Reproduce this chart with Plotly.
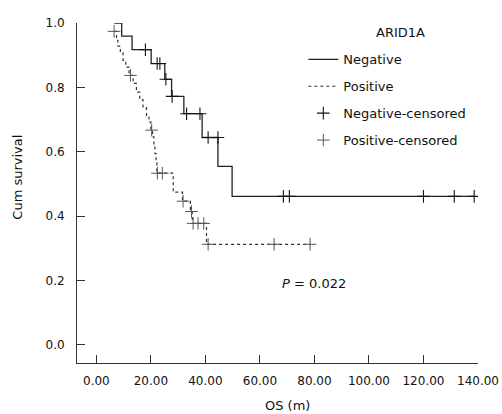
import plotly.graph_objects as go

# ---- data ----
neg_time = [6.6, 9.3, 13.1, 20.1, 25.1, 27.6, 32.1, 38.8, 44.6, 49.8, 138.6]
neg_surv = [1.0, 0.959, 0.917, 0.874, 0.825, 0.772, 0.718, 0.644, 0.554, 0.461, 0.461]

neg_cens_time = [18.0, 22.3, 23.3, 25.5, 27.8, 33.1, 38.0, 41.0, 44.6, 68.6, 70.8, 120.0, 131.3, 138.6]
neg_cens_surv = [0.917, 0.874, 0.874, 0.825, 0.772, 0.718, 0.718, 0.644, 0.644, 0.461, 0.461, 0.461, 0.461, 0.461]

pos_time = [6.5, 7.4, 7.9, 8.8, 9.8, 10.8, 12.0, 13.5, 14.7, 15.9, 17.1, 18.4, 19.3,
            20.0, 20.6, 21.1, 21.5, 21.9, 22.2, 28.2, 31.6, 34.5, 35.2, 40.4, 78.4]
pos_surv = [0.974, 0.946, 0.928, 0.907, 0.884, 0.863, 0.837, 0.812, 0.785, 0.762, 0.737, 0.713, 0.692,
            0.667, 0.646, 0.620, 0.594, 0.566, 0.533, 0.474, 0.446, 0.414, 0.377, 0.312, 0.312]

pos_cens_time = [6.5, 12.5, 20.3, 22.4, 24.2, 31.8, 34.9, 35.5, 37.3, 39.4, 41.0, 65.2, 78.4]
pos_cens_surv = [0.974, 0.837, 0.667, 0.533, 0.533, 0.446, 0.414, 0.377, 0.377, 0.377, 0.312, 0.312, 0.312]

x_ticks = [0, 20, 40, 60, 80, 100, 120, 140]
x_tick_text = ["0.00", "20.00", "40.00", "60.00", "80.00", "100.00", "120.00", "140.00"]
y_ticks = [0.0, 0.2, 0.4, 0.6, 0.8, 1.0]
y_tick_text = ["0.0", "0.2", "0.4", "0.6", "0.8", "1.0"]

FONT = "DejaVu Sans"
TXT = "#111111"

fig = go.Figure()
fig.add_trace(go.Scatter(
    x=neg_time, y=neg_surv, mode="lines", line_shape="hv", name="Negative",
    line=dict(color="#222222", width=1.3), legendgroup="a"))
fig.add_trace(go.Scatter(
    x=pos_time, y=pos_surv, mode="lines", line_shape="hv", name="Positive",
    line=dict(color="#333333", width=1.2, dash="3px,3px"), legendgroup="b"))
fig.add_trace(go.Scatter(
    x=neg_cens_time, y=neg_cens_surv, mode="markers", name="Negative-censored",
    marker=dict(symbol="cross-thin", size=9, line=dict(color="#111111", width=1.1)),
    legendgroup="c"))
fig.add_trace(go.Scatter(
    x=pos_cens_time, y=pos_cens_surv, mode="markers", name="Positive-censored",
    marker=dict(symbol="cross-thin", size=9, line=dict(color="#555555", width=1)),
    legendgroup="d"))

fig.add_annotation(x=79.8, y=0.19, xref="x", yref="y", text="<i>P</i> = 0.022",
                   showarrow=False, font=dict(family=FONT, size=13, color=TXT))
fig.add_annotation(x=70, y=-0.125, xref="x", yref="paper", text="OS (m)", yanchor="middle",
                   showarrow=False, font=dict(family=FONT, size=13, color=TXT))
fig.add_annotation(x=-0.149, y=0.52, xref="paper", yref="y", text="Cum survival", textangle=-90,
                   xanchor="center", showarrow=False, font=dict(family=FONT, size=13, color=TXT))
fig.add_annotation(x=0.806, y=0.9735, xref="paper", yref="paper", text="ARID1A",
                   xanchor="center", yanchor="middle", showarrow=False,
                   font=dict(family=FONT, size=13, color=TXT))

fig.update_layout(
    template="none",
    width=502, height=414,
    margin=dict(l=77.3, r=24.3, t=22.7, b=51.3, autoexpand=False),
    paper_bgcolor="white", plot_bgcolor="white",
    font=dict(family=FONT, size=12, color=TXT),
    showlegend=True,
    legend=dict(
        font=dict(family=FONT, size=13, color=TXT),
        x=0.5644, y=0.937, xanchor="left", yanchor="top",
        traceorder="grouped", tracegroupgap=7, itemwidth=30,
        bgcolor="rgba(0,0,0,0)", borderwidth=0),
    xaxis=dict(range=[-7.1, 140], tickvals=x_ticks, ticktext=x_tick_text, automargin=False,
               showgrid=False, zeroline=False, showline=True, linecolor="#333333", linewidth=1,
               ticks="inside", ticklen=8, tickcolor="#333333", ticklabelstandoff=7,
               tickfont=dict(family=FONT, size=12, color=TXT)),
    yaxis=dict(range=[-0.057, 1.0], tickvals=y_ticks, ticktext=y_tick_text, automargin=False,
               showgrid=False, zeroline=False, showline=True, linecolor="#333333", linewidth=1,
               ticks="inside", ticklen=8, tickcolor="#333333", ticklabelstandoff=9,
               tickfont=dict(family=FONT, size=12, color=TXT)),
)

# remove the page's default body margin so the 502x414 figure fills the window exactly
fig.write_html(
    "out.html",
    config={"displayModeBar": False},
    post_script="document.body.style.margin='0';document.body.style.overflow='hidden';",
)
